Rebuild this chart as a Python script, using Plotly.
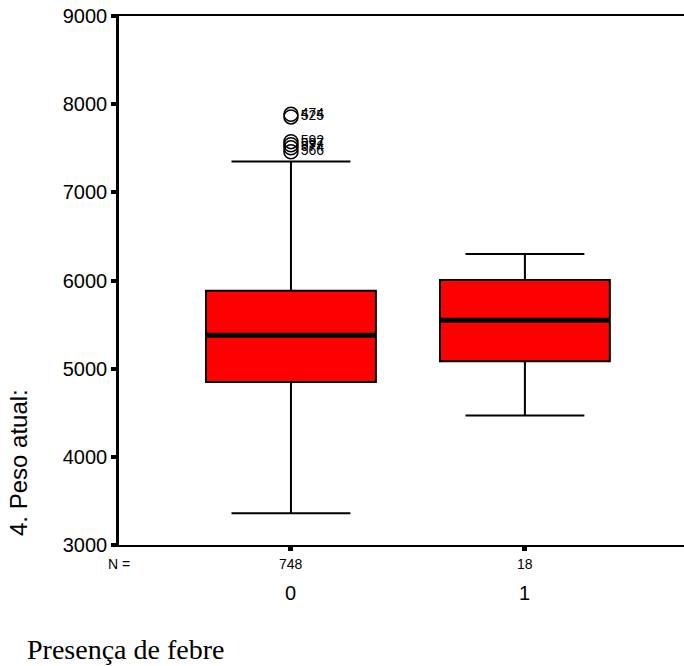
import plotly.graph_objects as go

categories = [0, 1]
cat_labels = ["0", "1"]
n_labels = ["748", "18"]
q1 = [4850, 5085]
median = [5380, 5550]
q3 = [5885, 6005]
lower = [3360, 4470]
upper = [7350, 6300]
outlier_x = [0, 0, 0, 0, 0, 0]
outlier_y = [7885, 7855, 7575, 7540, 7505, 7460]
outlier_labels = ["474", "525", "592", "597", "574", "566"]
y_ticks = [3000, 4000, 5000, 6000, 7000, 8000, 9000]

BOX_W = 0.726
SANS = "Liberation Sans, Arial"

fig = go.Figure()
for i, c in enumerate(categories):
    fig.add_trace(go.Box(
        x=[c], q1=[q1[i]], median=[median[i]], q3=[q3[i]],
        lowerfence=[lower[i]], upperfence=[upper[i]],
        width=BOX_W, whiskerwidth=0.7,
        fillcolor="#FF0000", line=dict(color="black", width=2),
        boxpoints=False, showlegend=False, hoverinfo="skip",
    ))
    fig.add_trace(go.Scatter(
        x=[c - BOX_W / 2 + 0.004, c + BOX_W / 2 - 0.004], y=[median[i], median[i]],
        mode="lines", line=dict(color="black", width=5),
        showlegend=False, hoverinfo="skip",
    ))

fig.add_trace(go.Scatter(
    x=outlier_x, y=outlier_y, mode="markers+text",
    marker=dict(symbol="circle-open", size=14, color="black", line=dict(width=1.5)),
    text=outlier_labels, textposition="middle right",
    textfont=dict(family=SANS, size=14, color="black"),
    showlegend=False, hoverinfo="skip",
))

fig.update_layout(
    width=684, height=666,
    margin=dict(l=119, r=0, t=16, b=121),
    paper_bgcolor="white", plot_bgcolor="white",
    font=dict(family=SANS, color="black"),
    xaxis=dict(
        range=[-0.735, 1.68], tickmode="array", tickvals=categories, ticktext=cat_labels,
        showline=True, linecolor="black", linewidth=2, mirror=True,
        ticks="outside", ticklen=4, tickwidth=5, tickcolor="black",
        showgrid=False, zeroline=False, showticklabels=False,
    ),
    yaxis=dict(
        range=[3000, 9000], tickmode="array", tickvals=y_ticks,
        showline=True, linecolor="black", linewidth=2.5,
        ticks="outside", ticklen=5, tickwidth=4, tickcolor="black",
        showgrid=False, zeroline=False,
        tickfont=dict(family=SANS, size=20, color="black"),
    ),
)

for i, c in enumerate(categories):
    fig.add_annotation(x=c, xref="x", y=0, yref="paper", yshift=-19,
                       text=n_labels[i], showarrow=False,
                       font=dict(size=14, family=SANS), yanchor="middle")
    fig.add_annotation(x=c, xref="x", y=0, yref="paper", yshift=-48,
                       text=cat_labels[i], showarrow=False,
                       font=dict(size=20, family=SANS), yanchor="middle")
fig.add_annotation(x=0, xref="paper", y=0, yref="paper", yshift=-19,
                   text="N =", showarrow=False, xanchor="center",
                   font=dict(size=14, family=SANS), yanchor="middle")

fig.add_annotation(x=(18 - 119) / 565, xref="paper", y=(545 - 463) / 529, yref="paper",
                   text="4. Peso atual:", textangle=-90, showarrow=False,
                   xanchor="center", yanchor="middle",
                   font=dict(size=24, family=SANS))

fig.add_annotation(x=(25 - 119) / 565, xref="paper", y=(545 - 649) / 529, yref="paper",
                   text="Presença de febre", showarrow=False,
                   xanchor="left", yanchor="middle",
                   font=dict(size=28, family="Liberation Serif, Times New Roman"))

fig.write_html("out.html")
